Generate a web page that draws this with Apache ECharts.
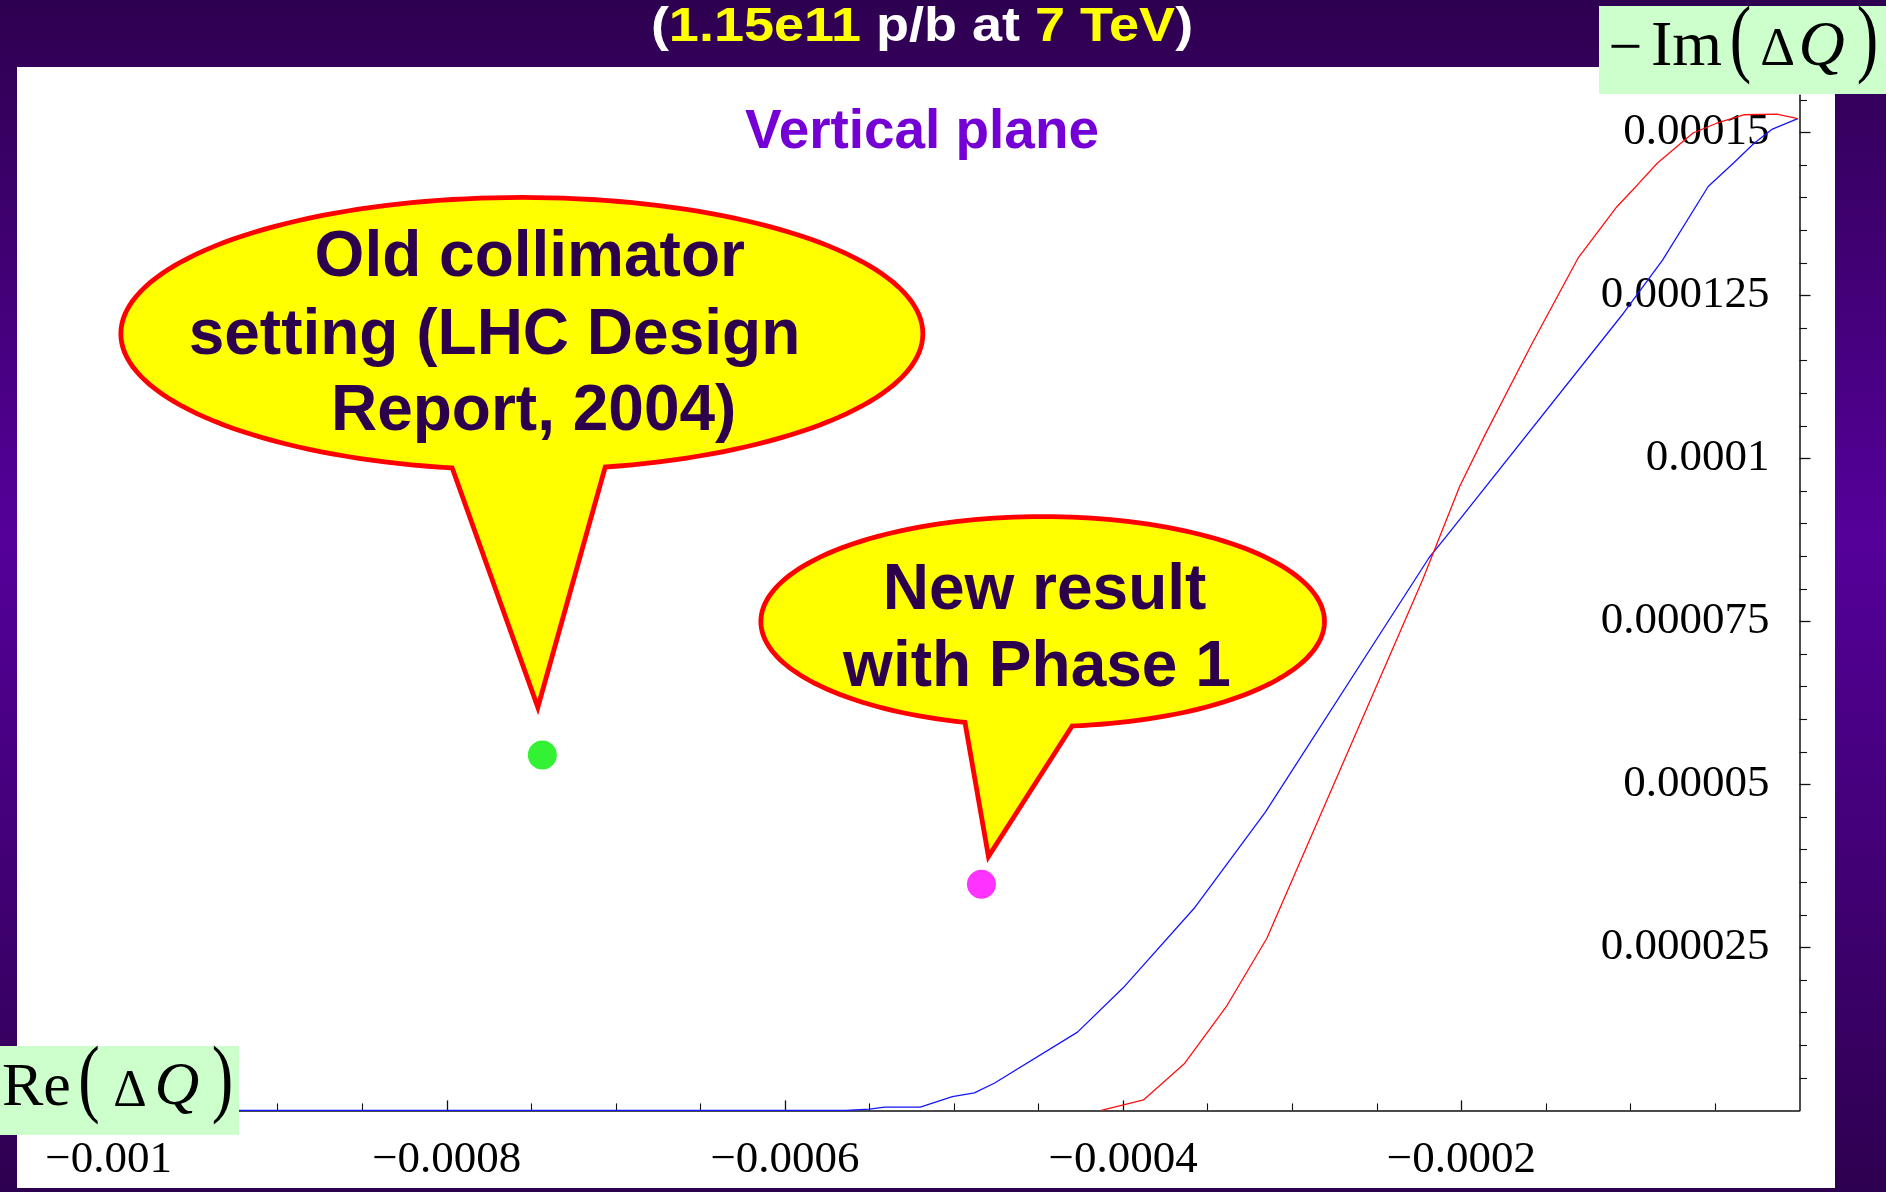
<!DOCTYPE html>
<html>
<head>
<meta charset="utf-8">
<script src="https://cdn.jsdelivr.net/npm/echarts@6/dist/echarts.min.js"></script>
<style>
html,body{margin:0;padding:0;background:#fff;}
#c{width:1886px;height:1192px;}
</style>
</head>
<body>
<div id="c"></div>
<script>
// ---------------- data ----------------
const blueRe = [-0.00104, -0.000564, -0.00055, -0.000541, -0.00052, -0.000501, -0.000488, -0.000476, -0.000427, -0.0004, -0.000358, -0.000316, -0.000219, -0.000209, -0.000104, -0.000081, -0.000054, -0.000039, -0.000027, -0.000016, -0.000001];
const blueIm = [0, 0, 0.0000002, 0.0000005, 0.0000005, 0.0000021, 0.0000027, 0.0000042, 0.000012, 0.0000188, 0.000031, 0.0000457, 0.0000848, 0.000088, 0.0001223, 0.0001304, 0.0001417, 0.0001453, 0.0001483, 0.0001505, 0.0001521];
const redRe = [-0.000413, -0.000388, -0.000364, -0.000339, -0.000315, -0.000256, -0.000223, -0.000201, -0.000186, -0.000158, -0.000131, -0.000108, -0.000096, -0.000084, -0.000063, -0.000049, -0.000033, -0.0000135, -0.000001];
const redIm = [0, 0.0000016, 0.0000071, 0.0000159, 0.0000264, 0.0000616, 0.0000813, 0.0000957, 0.0001036, 0.0001177, 0.0001307, 0.0001386, 0.0001419, 0.0001453, 0.0001499, 0.0001514, 0.0001527, 0.0001528, 0.0001521];
const oldPoint = [-0.0007435, 0.0000545];
const newPoint = [-0.0004838, 0.0000347];

const xMajorTicks = [-0.001, -0.0008, -0.0006, -0.0004, -0.0002];
const xMinorTicks = [-0.00095, -0.0009, -0.00085, -0.00075, -0.0007, -0.00065, -0.00055, -0.0005, -0.00045, -0.00035, -0.0003, -0.00025, -0.00015, -0.0001, -0.00005];
const yMajorTicks = [0.000025, 0.00005, 0.000075, 0.0001, 0.000125, 0.00015];
const yMinorTicks = [0.000005, 0.00001, 0.000015, 0.00002, 0.00003, 0.000035, 0.00004, 0.000045, 0.000055, 0.00006, 0.000065, 0.00007, 0.00008, 0.000085, 0.00009, 0.000095, 0.000105, 0.00011, 0.000115, 0.00012, 0.00013, 0.000135, 0.00014, 0.000145, 0.000155];

const titleText = ['(', '1.15e11', ' p/b at ', '7 TeV', ')'];
const subtitleText = 'Vertical plane';
const oldLines = ['Old collimator', 'setting (LHC Design', 'Report, 2004)'];
const newLines = ['New result', 'with Phase 1'];

// ---------------- chart ----------------
const X_MIN = -0.00104, X_MAX = 0, Y_MIN = 0, Y_MAX = 0.0001557;
const SERIF = '"Liberation Serif","Times New Roman",serif';
const SANS = '"Liberation Sans",Arial,sans-serif';

const chart = echarts.init(document.getElementById('c'), null, {renderer: 'canvas', width: 1886, height: 1192});

const fmtX = v => '\u2212' + Number(Math.abs(v).toPrecision(4)).toString();
const fmtY = v => Number(v.toPrecision(4)).toString();
const axisColor = '#111';

chart.setOption({
  animation: false,
  backgroundColor: 'transparent',
  grid: {left: 41, right: 86.5, top: 95.2, bottom: 81.6, containLabel: false},
  xAxis: [
    {type: 'value', min: X_MIN, max: X_MAX, position: 'bottom',
     axisLine: {show: true, onZero: false, lineStyle: {color: axisColor, width: 1.5}},
     axisTick: {show: true, inside: true, length: 10, customValues: xMajorTicks, lineStyle: {color: axisColor, width: 1.3}},
     axisLabel: {show: true, customValues: xMajorTicks, formatter: fmtX, fontFamily: SERIF, fontSize: 45, color: '#000', margin: 27},
     splitLine: {show: false}},
    {type: 'value', min: X_MIN, max: X_MAX, position: 'bottom',
     axisLine: {show: false, onZero: false},
     axisTick: {show: true, inside: true, length: 7, customValues: xMinorTicks, lineStyle: {color: axisColor, width: 1.1}},
     axisLabel: {show: false}, splitLine: {show: false}}
  ],
  yAxis: [
    {type: 'value', min: Y_MIN, max: Y_MAX, position: 'right',
     axisLine: {show: true, onZero: false, lineStyle: {color: axisColor, width: 1.5}},
     axisTick: {show: true, inside: false, length: 11, customValues: yMajorTicks, lineStyle: {color: axisColor, width: 1.3}},
     axisLabel: {show: true, inside: true, customValues: yMajorTicks, formatter: fmtY, fontFamily: SERIF, fontSize: 45, color: '#000', margin: 30},
     splitLine: {show: false}},
    {type: 'value', min: Y_MIN, max: Y_MAX, position: 'right',
     axisLine: {show: false, onZero: false},
     axisTick: {show: true, inside: false, length: 7.5, customValues: yMinorTicks, lineStyle: {color: axisColor, width: 1.1}},
     axisLabel: {show: false}, splitLine: {show: false}}
  ],
  series: [
    {type: 'line', xAxisIndex: 0, yAxisIndex: 0, showSymbol: false, z: 3,
     data: blueRe.map((x, i) => [x, blueIm[i]]), lineStyle: {color: '#1515ff', width: 1.3}},
    {type: 'line', xAxisIndex: 0, yAxisIndex: 0, showSymbol: false, z: 3,
     data: redRe.map((x, i) => [x, redIm[i]]), lineStyle: {color: '#ff1010', width: 1.3}},
    {type: 'scatter', xAxisIndex: 0, yAxisIndex: 0, symbolSize: 29, z: 4,
     data: [oldPoint], itemStyle: {color: '#00ee00'}},
    {type: 'scatter', xAxisIndex: 0, yAxisIndex: 0, symbolSize: 29, z: 4,
     data: [newPoint], itemStyle: {color: '#ff00ff'}}
  ]
});

// ---------------- annotations ----------------
const pOld = chart.convertToPixel({xAxisIndex: 0, yAxisIndex: 0}, oldPoint);
const pNew = chart.convertToPixel({xAxisIndex: 0, yAxisIndex: 0}, newPoint);

function bubble(p, c) {
  const cx = p[0] + c.dc[0], cy = p[1] + c.dc[1];
  const pts = [];
  const end = c.tR + 360;
  for (let t = c.tL; t < end; t += 2) {
    const r = t * Math.PI / 180;
    pts.push([cx + c.rx * Math.cos(r), cy + c.ry * Math.sin(r)]);
  }
  const re = end * Math.PI / 180;
  pts.push([cx + c.rx * Math.cos(re), cy + c.ry * Math.sin(re)]);
  pts.push([p[0] + c.apex[0], p[1] + c.apex[1]]);
  const els = [{
    type: 'polygon', z: 50,
    shape: {points: pts},
    style: {fill: '#ffff00', stroke: '#ff0000', lineWidth: 4.8, lineJoin: 'miter'}
  }];
  c.lines.forEach((s, i) => {
    els.push({
      type: 'text', z: 51, x: cx + c.to[i][0], y: cy + c.to[i][1],
      style: {text: s, fill: '#2c004d', font: 'bold 64px ' + SANS, align: 'center', verticalAlign: 'middle'}
    });
  });
  return els;
}

const bubbleOld = bubble(pOld, {dc: [-20.5, -421.3], rx: 401, ry: 136.3, tL: 100, tR: 78, apex: [-4.5, -47.8],
  lines: oldLines, to: [[7.9, -75.7], [-27.4, 2.3], [11.8, 78.3]]});
const bubbleNew = bubble(pNew, {dc: [61.2, -262.6], rx: 281.8, ry: 105, tL: 106, tR: 84, apex: [7, -27.6],
  lines: newLines, to: [[1.9, -30], [-5.7, 47]]});

const bgGradient = new echarts.graphic.LinearGradient(0, 0, 0, 1, [
  {offset: 0, color: '#2e0050'},
  {offset: 0.45, color: '#55009a'},
  {offset: 1, color: '#2e0050'}
]);

function t(x, y, text, font, extra) {
  return Object.assign({type: 'text', z: 101, x: x, y: y,
    style: {text: text, fill: '#000', font: font, align: 'center', verticalAlign: 'middle'}}, extra || {});
}

const titleRich = '(' + '{y|' + titleText[1] + '}' + titleText[2] + '{y|' + titleText[3] + '}' + ')';

const graphics = [
  {type: 'rect', z: -100, shape: {x: 0, y: 0, width: 1886, height: 1192}, style: {fill: bgGradient}},
  {type: 'rect', z: -99, shape: {x: 17, y: 67, width: 1818, height: 1121}, style: {fill: '#ffffff'}},
  {type: 'text', z: 20, x: 922, y: 28, scaleX: 1.125,
   style: {text: titleRich, fill: '#ffffff', fontSize: 48, fontWeight: 'bold', fontFamily: SANS, align: 'center', verticalAlign: 'middle',
     rich: {y: {fill: '#ffff00', fontSize: 48, fontWeight: 'bold', fontFamily: SANS}}}},
  {type: 'text', z: 20, x: 922, y: 133, scaleX: 0.98,
   style: {text: subtitleText, fill: '#7400d6', font: 'bold 56px ' + SANS, align: 'center', verticalAlign: 'middle'}},
  // -Im(ΔQ) label box
  {type: 'rect', z: 100, shape: {x: 1599, y: 6, width: 287, height: 88}, style: {fill: '#ccffcc'}},
  t(1625.5, 50, '\u2212', '60px ' + SERIF),
  t(1686.5, 48, 'Im', '64px ' + SERIF),
  t(1740.5, 43, '(', '86px ' + SERIF, {scaleX: 0.75}),
  t(1777.5, 51, '\u0394', '54px ' + SERIF),
  t(1821.5, 48, 'Q', 'italic 64px ' + SERIF),
  t(1867.5, 43, ')', '86px ' + SERIF, {scaleX: 0.75}),
  // Re(ΔQ) label box
  {type: 'rect', z: 100, shape: {x: 0, y: 1046, width: 239, height: 89}, style: {fill: '#ccffcc'}},
  t(36.4, 1088.5, 'Re', '62px ' + SERIF),
  t(89, 1083, '(', '86px ' + SERIF, {scaleX: 0.75}),
  t(130, 1092, '\u0394', '52px ' + SERIF),
  t(177, 1088, 'Q', 'italic 62px ' + SERIF),
  t(222.5, 1083, ')', '86px ' + SERIF, {scaleX: 0.75})
].concat(bubbleOld, bubbleNew);

chart.setOption({graphic: graphics});
</script>
</body>
</html>
